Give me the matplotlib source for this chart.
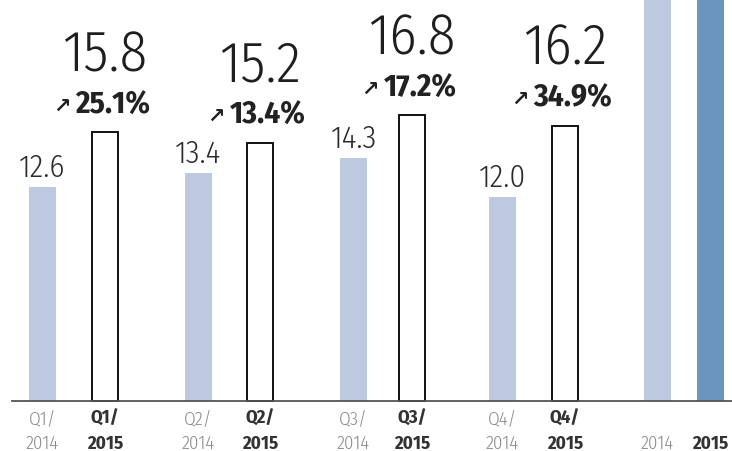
import matplotlib.pyplot as plt
from matplotlib import font_manager as fm

# data
quarters = ['Q1', 'Q2', 'Q3', 'Q4']
v2014 = [12.6, 13.4, 14.3, 12.0]
v2015 = [15.8, 15.2, 16.8, 16.2]
growth = ['25.1%', '13.4%', '17.2%', '34.9%']
year_2014 = 52.3
year_2015 = 64.0

# layout (pixel units, figure is 732x452)
x14 = [42.5, 198.5, 353.5, 502.5]
x15 = [105, 260, 412, 565]
xy14, xy15 = 657.5, 710.5
bar_w = 27
scale = 17.0          # px per unit
base_px = 402         # baseline row
px = 72 / 100         # one pixel in points

light = '#bcc9e0'
dark = '#6b95bd'

# narrow humanist font if there is one
names = {f.name for f in fm.fontManager.ttflist}
font = 'DejaVu Sans'
for cand in ['Fira Sans Condensed', 'Asap Condensed', 'Roboto Condensed', 'Archivo Narrow', 'Sofia Sans Condensed']:
    if cand in names:
        font = cand
        break

fig = plt.figure(figsize=(7.32, 4.52), dpi=100)
ax = fig.add_axes([0, 0, 1, 1])
ax.set_xlim(0, 732)
ax.set_ylim(-(452 - base_px) / scale, base_px / scale)
ax.axis('off')

ax.bar(x14, v2014, width=bar_w, color=light, zorder=2)
ax.bar(x15, v2015, width=bar_w - 1.5, color='white', edgecolor='#111111', linewidth=1.4, zorder=2)
ax.bar([xy14], [year_2014], width=bar_w, color=light, zorder=2)
ax.bar([xy15], [year_2015], width=bar_w, color=dark, zorder=2)

ax.axhline(0, xmin=12 / 732, xmax=1, color='#555555', linewidth=1.3, zorder=3)

for i in range(4):
    # 2014 value
    ax.annotate(f'{v2014[i]:.1f}', xy=(x14[i], v2014[i]), xytext=(0, 11 * px),
                textcoords='offset points', ha='center', va='baseline',
                fontsize=22.5, family=font, fontweight=300, color='#2a2a2a')
    # 2015 value
    ax.annotate(f'{v2015[i]:.1f}', xy=(x15[i], v2015[i]), xytext=(0, 62 * px),
                textcoords='offset points', ha='center', va='baseline',
                fontsize=41, family=font, fontweight=300, color='#1e1e1e')
    # growth
    t = ax.annotate(growth[i], xy=(x15[i], v2015[i]), xytext=(8 * px, 20 * px),
                    textcoords='offset points', ha='center', va='baseline',
                    fontsize=22.5, family=font, fontweight='bold', color='#222222')
    ax.annotate('\u2197', xy=(0, 0.45), xycoords=t, xytext=(-5 * px, 0),
                textcoords='offset points', ha='right', va='center',
                fontsize=15, family='DejaVu Sans', fontweight='bold', color='#222222')
    # tick labels
    for x, yr, w, c in [(x14[i], '2014', 300, '#8a8a8a'), (x15[i], '2015', 'bold', '#333333')]:
        ax.annotate(quarters[i] + '/', xy=(x, 0), xytext=(0, -22 * px), textcoords='offset points',
                    ha='center', va='baseline', fontsize=13.5, family=font, fontweight=w, color=c)
        ax.annotate(yr, xy=(x, 0), xytext=(0, -47 * px), textcoords='offset points',
                    ha='center', va='baseline', fontsize=13.5, family=font, fontweight=w, color=c)

ax.annotate('2014', xy=(xy14, 0), xytext=(0, -47 * px), textcoords='offset points',
            ha='center', va='baseline', fontsize=13.5, family=font, fontweight=300, color='#8a8a8a')
ax.annotate('2015', xy=(xy15, 0), xytext=(0, -47 * px), textcoords='offset points',
            ha='center', va='baseline', fontsize=13.5, family=font, fontweight='bold', color='#333333')

fig.savefig('out.png', dpi=100)
